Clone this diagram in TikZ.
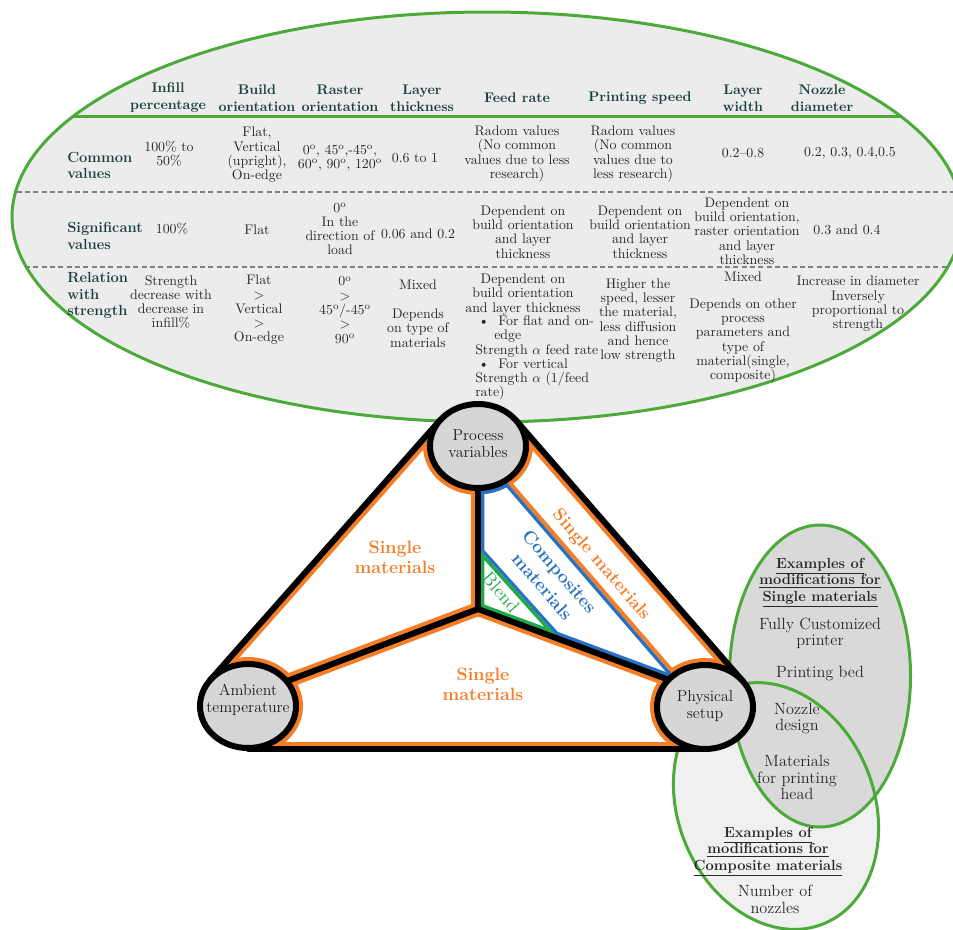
\documentclass[tikz,border=0pt]{standalone}
\usepackage{xcolor}
\usetikzlibrary{calc}
\definecolor{egreen}{RGB}{76,170,58}
\definecolor{efill}{RGB}{236,236,236}
\definecolor{hdr}{RGB}{28,64,62}
\definecolor{txt}{RGB}{40,40,40}
\definecolor{dgray}{RGB}{128,128,128}
\definecolor{org}{RGB}{244,125,38}
\definecolor{blu}{RGB}{40,112,196}
\definecolor{bgr}{RGB}{30,170,72}
\definecolor{cfill}{RGB}{214,214,214}
\definecolor{ufill}{RGB}{217,217,217}
\definecolor{lfill}{RGB}{240,240,240}
\begin{document}
\begin{tikzpicture}[x=0.75pt,y=-0.75pt,
  tblhead/.style={font=\fontsize{10.5}{12.75}\selectfont\bfseries, text=hdr, align=center, inner sep=0pt},
  rowlab/.style={font=\fontsize{11}{12.4}\selectfont\bfseries, text=hdr, align=left, anchor=west, inner sep=0pt},
  cellt/.style={font=\fontsize{10.4}{10.7}\selectfont, text=txt, align=center, inner sep=0pt},
  celll/.style={cellt, align=left, anchor=west},
  circlab/.style={font=\fontsize{11.9}{12.75}\selectfont, text=black!88, align=center, inner sep=0pt},
  matlab/.style={font=\fontsize{13.4}{15}\selectfont\bfseries, text=org, align=center, inner sep=0pt},
  exlab/.style={font=\fontsize{12.2}{12.5}\selectfont, text=txt, align=center, inner sep=0pt},
  exbold/.style={font=\fontsize{11}{12.4}\selectfont\bfseries, text=txt, align=center, inner sep=0pt},
  cring/.style={fill=cfill, draw=black, line width=4.5pt},
  blackline/.style={draw=black, line width=4.5pt, line cap=round, line join=miter},
  greenline/.style={draw=egreen, line width=2.25pt},
]
\useasboundingbox (0,0) rectangle (953,929);
\clip (0,0) rectangle (953,929);

% ---------- top ellipse with table ----------
\coordinate (E) at (487,217);
\path[fill=efill] (E) ellipse [x radius=475, y radius=205];
\begin{scope}
  \clip (E) ellipse [x radius=475, y radius=205];
  \draw[egreen, line width=2.25pt] (0,116.5) -- (953,116.5);
  \draw[dgray, line width=2pt, dash pattern=on 3.75pt off 2.5pt] (0,192) -- (953,192);
  \draw[dgray, line width=2pt, dash pattern=on 3.75pt off 2.5pt] (0,267) -- (953,267);
\end{scope}
\draw[greenline] (E) ellipse [x radius=475, y radius=205];

% headers
\node[tblhead] (h1) at (168,98) {Infill\\percentage};
\node[tblhead] (h2) at (257,98) {Build\\orientation};
\node[tblhead] (h3) at (340,98) {Raster\\orientation};
\node[tblhead] (h4) at (422,98) {Layer\\thickness};
\node[tblhead] (h5) at (517,98) {Feed rate};
\node[tblhead] (h6) at (640,98) {Printing speed};
\node[tblhead] (h7) at (743,98) {Layer\\width};
\node[tblhead] (h8) at (822,98) {Nozzle\\diameter};

% row labels
\node[rowlab] (l1) at (67,165.5) {Common\\values};
\node[rowlab] (l2) at (67,236) {Significant\\values};
\node[rowlab] (l3) at (67,295.5) {Relation\\with\\strength};

% row 1
\node[cellt] (a1) at (169,154) {100\% to\\50\%};
\node[cellt] (a2) at (257,155) {Flat,\\Vertical\\(upright),\\On-edge};
\node[cellt] (a3) at (340,158) {0\textsuperscript{o}, 45\textsuperscript{o},-45\textsuperscript{o},\\60\textsuperscript{o}, 90\textsuperscript{o}, 120\textsuperscript{o}};
\node[cellt] (a4) at (415,158) {0.6 to 1};
\node[cellt] (a5) at (517,154) {Radom values\\(No common\\values due to less\\research)};
\node[cellt] (a6) at (633,154) {Radom values\\(No common\\values due to\\less research)};
\node[cellt] (a7) at (743,153) {0.2--0.8};
\node[cellt] (a8) at (850,153) {0.2, 0.3, 0.4,0.5};

% row 2
\node[cellt] (b1) at (172,229) {100\%};
\node[cellt] (b2) at (257,230) {Flat};
\node[cellt] (b3) at (340,229) {0\textsuperscript{o}\\In the\\direction of\\load};
\node[cellt] (b4) at (418,234) {0.06 and 0.2};
\node[cellt] (b5) at (523,232) {Dependent on\\build orientation\\and layer\\thickness};
\node[cellt] (b6) at (640,232) {Dependent on\\build orientation\\and layer\\thickness};
\node[cellt] (b7) at (747,231) {Dependent on\\build orientation,\\raster orientation\\and layer\\thickness};
\node[cellt] (b8) at (847,230) {0.3 and 0.4};

% row 3
\node[cellt] (c1) at (171,302) {Strength\\decrease with\\decrease in\\infill\%};
\node[cellt] (c2) at (259,310) {Flat\\>\\Vertical\\>\\On-edge};
\node[cellt] (c3) at (345,310) {0\textsuperscript{o}\\>\\45\textsuperscript{o}/-45\textsuperscript{o}\\>\\90\textsuperscript{o}};
\node[cellt] (c4a) at (418,285) {Mixed};
\node[cellt] (c4b) at (418,328) {Depends\\on type of\\materials};
\node[cellt] (c5a) at (523,294.5) {Dependent on\\build orientation\\and layer thickness};
\node[celll] (c5b) at (475,358) {\hspace*{2.25pt}\textbullet\hspace{6.9pt}For flat and on-\\\hspace*{14.25pt}edge\\Strength $\alpha$ feed rate\\\hspace*{2.25pt}\textbullet\hspace{6.9pt}For vertical\\Strength $\alpha$ (1/feed\\rate)};
\node[cellt] (c6) at (638,320.5) {Higher the\\speed, lesser\\the material,\\less diffusion\\and hence\\low strength};
\node[cellt] (c7a) at (743,277) {Mixed};
\node[cellt] (c7b) at (743,341) {Depends on other\\process\\parameters and\\type of\\material(single,\\composite)};
\node[cellt] (c8) at (858,304) {Increase in diameter\\Inversely\\proportional to\\strength};

% ---------- right ellipses ----------
\coordinate (U) at (820,676);
\coordinate (Lo) at (776,806);
\path[fill=lfill, rotate around={22:(Lo)}] (Lo) ellipse [x radius=98, y radius=127];
\path[fill=ufill] (U) ellipse [x radius=90.5, y radius=151];
\draw[greenline, rotate around={22:(Lo)}] (Lo) ellipse [x radius=98, y radius=127];
\draw[greenline] (U) ellipse [x radius=90.5, y radius=151];

\node[exbold] (e1) at (820,582.5) {\underline{Examples of}\\\underline{modifications for}\\\underline{Single materials}};
\node[exlab] (e2) at (820,633.5) {Fully Customized\\printer};
\node[exlab] (e3) at (820,674) {Printing bed};
\node[exlab] (e4) at (797,718.5) {Nozzle\\design};
\node[exlab] (e5) at (797,777.5) {Materials\\for printing\\head};
\node[exbold] (e6) at (768,851.5) {\underline{Examples of}\\\underline{modifications for}\\\underline{Composite materials}};
\node[exlab] (e7) at (775,899.5) {Number of\\nozzles};

% ---------- triangle ----------
\coordinate (P) at (478,446);
\coordinate (A) at (248,706);
\coordinate (S) at (705,707);
\coordinate (PL) at (439.7,420.6);
\coordinate (AL) at (209.7,680.6);
\coordinate (PR) at (515.9,420.3);
\coordinate (SR) at (742.9,681.3);
\coordinate (AB) at (248,748.5);
\coordinate (SB) at (705,748.5);
\coordinate (J) at (478,609);
\coordinate (Ain) at (282,683);
\coordinate (Sin) at (680,684);
\coordinate (Dtop) at (489,462);
\coordinate (Dbot) at (686,690);
\coordinate (V1) at (478,548);
\coordinate (V3) at (560,639.4);

% left region
\begin{scope}
  \clip (P) -- (PL) -- (AL) -- (A) -- (Ain) -- (J) -- cycle;
  \fill[white] (P) -- (PL) -- (AL) -- (A) -- (Ain) -- (J) -- cycle;
  \fill[org] (P) ellipse [x radius=55, y radius=49];
  \fill[org] (A) ellipse [x radius=55, y radius=49];
  \draw[org, line width=10.5pt] (PL) -- (AL);
  \draw[org, line width=10.5pt] (Ain) -- (J) -- (P);
\end{scope}
% bottom region
\begin{scope}
  \clip (A) -- (Ain) -- (J) -- (Sin) -- (S) -- (SB) -- (AB) -- cycle;
  \fill[white] (A) -- (Ain) -- (J) -- (Sin) -- (S) -- (SB) -- (AB) -- cycle;
  \fill[org] (A) ellipse [x radius=55, y radius=49];
  \fill[org] (S) ellipse [x radius=55, y radius=49];
  \draw[org, line width=10.5pt] (Ain) -- (J) -- (Sin);
  \draw[org, line width=10.5pt] (SB) -- (AB);
\end{scope}
% strip region (single materials)
\begin{scope}
  \clip (P) -- (PR) -- (SR) -- (S) -- (Dbot) -- (Dtop) -- cycle;
  \fill[white] (P) -- (PR) -- (SR) -- (S) -- (Dbot) -- (Dtop) -- cycle;
  \fill[org] (P) ellipse [x radius=55, y radius=49];
  \fill[org] (S) ellipse [x radius=55, y radius=49];
  \draw[org, line width=10.5pt] (PR) -- (SR);
  \draw[org, line width=6pt] ($(Dtop)!-0.2!(Dbot)$) -- ($(Dbot)!-0.2!(Dtop)$);
\end{scope}
% composite region
\begin{scope}
  \clip (P) -- (Dtop) -- (Dbot) -- (Sin) -- (J) -- cycle;
  \fill[white] (P) -- (Dtop) -- (Dbot) -- (Sin) -- (J) -- cycle;
  \fill[blu] (P) ellipse [x radius=54.5, y radius=48.5];
  \fill[blu] (S) ellipse [x radius=54.5, y radius=48.5];
  \draw[blu, line width=9.5pt] (Sin) -- (J) -- (P);
  \draw[blu, line width=5pt] ($(Dtop)!-0.2!(Dbot)$) -- ($(Dbot)!-0.2!(Dtop)$);
  \draw[blu, line width=5pt] (V1) -- (V3);
\end{scope}
% blend region
\begin{scope}
  \clip (V1) -- (J) -- (V3) -- cycle;
  \fill[white] (V1) -- (J) -- (V3) -- cycle;
  \draw[bgr, line width=9.5pt] (V1) -- (J) -- (V3);
  \draw[bgr, line width=5pt] ($(V1)!-0.2!(V3)$) -- ($(V3)!-0.2!(V1)$);
\end{scope}

% black lines
\draw[blackline] (PL) -- (AL);
\draw[blackline] (PR) -- (SR);
\draw[blackline] (AB) -- (SB);
\draw[blackline] (P) -- (J);
\draw[blackline, line cap=butt] (Ain) -- (J) -- (Sin);

% circles
\draw[cring] (P) ellipse [x radius=48, y radius=42];
\draw[cring] (A) ellipse [x radius=48, y radius=42];
\draw[cring] (S) ellipse [x radius=48, y radius=42];
\node[circlab] (pv) at (478,444) {Process\\variables};
\node[circlab] (at) at (248,700) {Ambient\\temperature};
\node[circlab] (ps) at (705,706) {Physical\\setup};

% region labels
\node[matlab] (sm1) at (395,557) {Single\\materials};
\node[matlab] (sm2) at (483,684) {Single\\materials};
\node[matlab, rotate=-49.2] (sm3) at (601,565) {Single materials};
\node[matlab, text=blu, font=\fontsize{13.6}{17}\selectfont\bfseries, rotate=-49.2] (cm) at (551,579) {Composites\\materials};
\node[matlab, text=bgr, font=\fontsize{14}{14}\selectfont, rotate=-49.2] (bl) at (501,592) {Blend};
\end{tikzpicture}
\end{document}
